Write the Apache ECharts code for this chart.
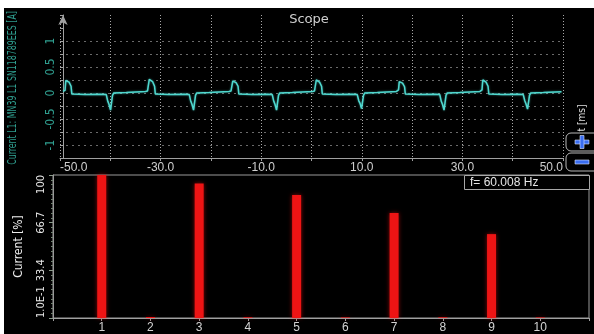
<!DOCTYPE html>
<html>
<head>
<meta charset="utf-8">
<script src="https://cdn.jsdelivr.net/npm/echarts@6/dist/echarts.min.js"></script>
<style>
  html, body { margin: 0; padding: 0; background: #ffffff; }
  #chart { width: 594px; height: 334px; }
</style>
</head>
<body>
<div id="chart"></div>
<script>
// Scope trace: time in ms, current in A
const timeMs = [
  -49.4, -49.0, -48.85, -48.65, -48.2, -47.8, -47.65, -45.0, -42.0,
  -40.8, -40.5, -40.25, -39.95, -39.75, -39.55, -39.3, -36.8, -33.0, -32.6,
  -32.4, -32.25, -32.05, -31.6, -31.2, -31.05, -28.4, -25.3,
  -24.3, -24.0, -23.75, -23.45, -23.25, -23.05, -22.8, -20.3, -16.4, -16.0,
  -15.8, -15.65, -15.45, -15.0, -14.6, -14.45, -11.8, -8.8,
  -7.8, -7.5, -7.25, -6.95, -6.75, -6.55, -6.3, -3.8, 0.2, 0.6,
  0.8, 0.95, 1.15, 1.6, 2.0, 2.15, 4.8, 8.1,
  9.1, 9.4, 9.65, 9.95, 10.15, 10.35, 10.6, 13.1, 16.9, 17.1,
  17.3, 17.45, 17.65, 18.1, 18.5, 18.65, 21.3, 24.5,
  25.5, 25.8, 26.05, 26.35, 26.55, 26.75, 27.0, 29.5, 33.5, 33.7,
  33.9, 34.05, 34.25, 34.7, 35.1, 35.25, 37.9, 41.1,
  42.1, 42.4, 42.65, 42.95, 43.15, 43.35, 43.6, 46.1, 49.7
];
const currentA = [
  0.03, 0.05, 0.24, 0.27, 0.21, 0.13, -0.02, -0.03, -0.025,
  -0.03, -0.16, -0.22, -0.33, -0.30, -0.04, 0.0, 0.01, 0.03, 0.04,
  0.06, 0.26, 0.29, 0.22, 0.13, -0.02, -0.03, -0.025,
  -0.03, -0.16, -0.22, -0.33, -0.30, -0.04, 0.0, 0.01, 0.03, 0.04,
  0.06, 0.23, 0.26, 0.20, 0.13, -0.02, -0.03, -0.025,
  -0.03, -0.16, -0.22, -0.33, -0.30, -0.04, 0.0, 0.01, 0.03, 0.04,
  0.06, 0.25, 0.28, 0.21, 0.13, -0.02, -0.03, -0.025,
  -0.03, -0.15, -0.20, -0.30, -0.27, -0.04, 0.0, 0.01, 0.03, 0.04,
  0.06, 0.22, 0.25, 0.19, 0.12, -0.02, -0.03, -0.025,
  -0.03, -0.16, -0.22, -0.33, -0.30, -0.04, 0.0, 0.01, 0.03, 0.04,
  0.06, 0.25, 0.28, 0.21, 0.13, -0.02, -0.03, -0.025,
  -0.03, -0.15, -0.21, -0.31, -0.28, -0.04, 0.0, 0.01, 0.025
];

// Harmonic spectrum: order and amplitude in % of fundamental
const harmonicOrder = [1, 2, 3, 4, 5, 6, 7, 8, 9, 10];
const harmonicPct = [100, 0.8, 94.1, 0.6, 86.0, 0.5, 73.4, 0.6, 58.7, 0.5];

const scopeYAxisName = 'Current L1: MN39 L1 SN118789EES [A]';
const spectrumYAxisName = 'Current [%]';
const frequencyText = 'f= 60.008 Hz';

const teal = '#2f9e8f';
const axisGray = '#a0a0a0';
const narrowFont = '"Liberation Sans Narrow", "DejaVu Sans Condensed", "Liberation Sans", sans-serif';
const sansFont = '"Liberation Sans", Arial, sans-serif';

const traceData = timeMs.map((t, i) => [t, currentA[i]]);
const barData = harmonicOrder.map((h, i) => [h, harmonicPct[i]]);

const chart = echarts.init(document.getElementById('chart'), null, { renderer: 'canvas' });

chart.setOption({
  animation: false,
  backgroundColor: '#000000',
  grid: [
    { left: 60, right: 31, top: 15, bottom: 176, outerBoundsMode: 'none', containLabel: false },
    { left: 53, right: 5, top: 175, bottom: 16, outerBoundsMode: 'none', containLabel: false,
      show: true, borderColor: '#9a9a9a', borderWidth: 1, backgroundColor: 'transparent' }
  ],
  xAxis: [
    {
      type: 'value', gridIndex: 0, min: -50, max: 50, interval: 10,
      axisLine: { onZero: false, lineStyle: { color: axisGray, width: 1 } },
      axisTick: { show: true, length: 3, lineStyle: { color: axisGray } },
      axisLabel: {
        color: '#cfcfcf', fontSize: 12, fontFamily: sansFont, margin: 4,
        alignMinLabel: 'left', alignMaxLabel: 'right',
        formatter: v => (Math.abs(Math.round(v)) % 20 === 10 ? v.toFixed(1) : '')
      },
      splitLine: { show: true, lineStyle: { color: '#a8a8a8', type: [1, 2], width: 1 } }
    },
    {
      type: 'value', gridIndex: 1, min: 0, max: 11, interval: 1,
      axisLine: { onZero: false, lineStyle: { color: axisGray, width: 1 } },
      axisTick: { show: true, length: 3, lineStyle: { color: axisGray } },
      axisLabel: {
        color: '#d4d4d4', fontSize: 12, fontFamily: sansFont, margin: 4,
        formatter: v => (v >= 1 && v <= 10 ? String(v) : '')
      },
      splitLine: { show: false }
    }
  ],
  yAxis: [
    {
      type: 'value', gridIndex: 0, min: -1.25, max: 1.5, interval: 0.25, offset: -3,
      axisLine: {
        show: true, onZero: false, symbol: ['none', 'arrow'], symbolSize: [7, 10],
        lineStyle: { color: axisGray, width: 1 }
      },
      axisTick: { show: true, length: 3, lineStyle: { color: axisGray } },
      axisLabel: {
        rotate: 90, color: teal, fontSize: 12, fontFamily: narrowFont, margin: 6,
        formatter: v => (Math.abs(v) <= 1 && Math.abs(v * 2 - Math.round(v * 2)) < 1e-6 ? String(v) : '')
      },
      splitLine: {
        show: true,
        lineStyle: {
          color: ['transparent', '#6a6a6a', '#6a6a6a', '#6a6a6a', '#6a6a6a', '#6a6a6a',
                  '#6a6a6a', '#6a6a6a', '#6a6a6a', '#6a6a6a', 'transparent', 'transparent'],
          type: [2, 4], width: 1
        }
      }
    },
    {
      type: 'value', gridIndex: 1, min: 0.1, max: 100, interval: 33.3,
      axisLine: { show: true, onZero: false, lineStyle: { color: '#9a9a9a', width: 1 } },
      axisTick: { show: true, length: 4, lineStyle: { color: '#8a9a8a' } },
      minorTick: { show: true, splitNumber: 10, length: 2, lineStyle: { color: '#6f7f6f' } },
      axisLabel: {
        rotate: 90, color: '#e6e6e6', fontSize: 11, fontFamily: narrowFont, margin: 6,
        alignMinLabel: 'left', alignMaxLabel: 'right',
        formatter: v => (v < 1 ? '1.0E-1' : (v > 99.9 ? '100' : v.toFixed(1)))
      },
      name: spectrumYAxisName, nameLocation: 'middle', nameRotate: 90, nameGap: 28,
      nameTextStyle: { color: '#ececec', fontSize: 12, fontFamily: narrowFont },
      splitLine: { show: false }
    }
  ],
  series: [
    {
      type: 'line', xAxisIndex: 0, yAxisIndex: 0, data: traceData,
      showSymbol: false, symbol: 'none',
      lineStyle: { color: '#4fd8cf', width: 1.5, shadowBlur: 2, shadowColor: 'rgba(80,220,210,0.6)' }
    },
    {
      type: 'bar', xAxisIndex: 1, yAxisIndex: 1, data: barData, barWidth: 9,
      itemStyle: { color: '#ee1414', shadowBlur: 4, shadowColor: 'rgba(255,20,20,0.55)' }
    }
  ],
  graphic: [
    // white frame edges of the instrument window
    { type: 'rect', left: 0, top: 0, shape: { width: 594, height: 8 }, style: { fill: '#ffffff' }, z: 100 },
    { type: 'rect', left: 0, top: 0, shape: { width: 4, height: 334 }, style: { fill: '#ffffff' }, z: 100 },
    // scope channel name, condensed to fit the panel height
    { type: 'text', x: 13, y: 88, rotation: Math.PI / 2, scaleX: 0.73,
      style: { text: scopeYAxisName, fill: teal, font: '12px ' + narrowFont, align: 'center', verticalAlign: 'middle' } },
    // panel title
    { type: 'text', x: 309, y: 20, style: { text: 'Scope', fill: '#d0d0d0', font: '13px "DejaVu Sans", sans-serif', align: 'center', verticalAlign: 'middle' } },
    // time unit label on the right edge
    { type: 'text', x: 582, y: 118, rotation: Math.PI / 2,
      style: { text: 't [ms]', fill: '#e0e0e0', font: '10px ' + narrowFont, align: 'center', verticalAlign: 'middle' } },
    // zoom buttons
    { type: 'rect', shape: { x: 566, y: 133, width: 40, height: 18, r: 5 }, style: { fill: '#000', stroke: '#b8b8b8', lineWidth: 1 } },
    { type: 'rect', shape: { x: 566, y: 153, width: 40, height: 18, r: 5 }, style: { fill: '#000', stroke: '#b8b8b8', lineWidth: 1 } },
    { type: 'rect', shape: { x: 575, y: 140, width: 14, height: 4 }, style: { fill: '#3a6df0', stroke: '#dfe8ff', lineWidth: 0.6 } },
    { type: 'rect', shape: { x: 580, y: 135.5, width: 4, height: 13 }, style: { fill: '#3a6df0', stroke: '#dfe8ff', lineWidth: 0.6 } },
    { type: 'rect', shape: { x: 575, y: 160, width: 14, height: 4 }, style: { fill: '#3a6df0', stroke: '#dfe8ff', lineWidth: 0.6 } },
    // fundamental frequency readout
    { type: 'rect', shape: { x: 464.5, y: 175.5, width: 125, height: 14 }, style: { fill: '#000', stroke: '#a8a8a8', lineWidth: 1 } },
    { type: 'text', x: 470, y: 182.5, style: { text: frequencyText, fill: '#e6e6e6', font: '12px ' + sansFont, verticalAlign: 'middle' } }
  ]
});
</script>
</body>
</html>
